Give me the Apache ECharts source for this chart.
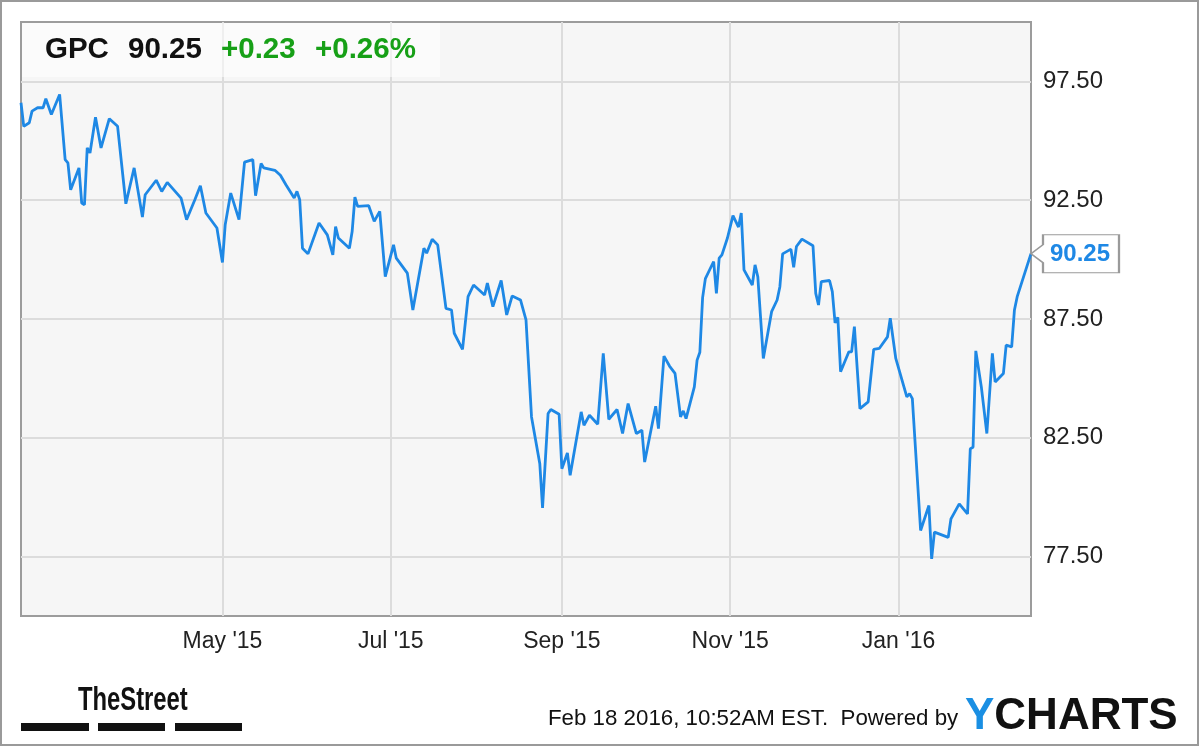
<!DOCTYPE html>
<html><head><meta charset="utf-8">
<script src="https://cdn.jsdelivr.net/npm/echarts@6/dist/echarts.min.js"></script>
<style>html,body{margin:0;padding:0;background:#fff}#c{width:1200px;height:747px}</style>
</head><body><div id="c"></div>
<script>
// ---- data ----
const ticker = 'GPC';
const lastPriceText = '90.25';
const changeText = '+0.23';
const changePctText = '+0.26%';
const stampText = 'Feb 18 2016, 10:52AM EST.  Powered by';

const dates = [
'2015-02-17','2015-02-18','2015-02-20','2015-02-21','2015-02-23','2015-02-25','2015-02-26','2015-02-28',
'2015-03-03','2015-03-05','2015-03-06','2015-03-07','2015-03-10','2015-03-11','2015-03-12','2015-03-13',
'2015-03-14','2015-03-16','2015-03-18','2015-03-21','2015-03-24','2015-03-27','2015-03-30','2015-04-02',
'2015-04-03','2015-04-07','2015-04-09','2015-04-11','2015-04-16','2015-04-18','2015-04-21','2015-04-23',
'2015-04-25','2015-04-29','2015-05-01','2015-05-02','2015-05-04','2015-05-07','2015-05-09','2015-05-12',
'2015-05-13','2015-05-15','2015-05-16','2015-05-20','2015-05-22','2015-05-24','2015-05-27','2015-05-28',
'2015-05-29','2015-05-30','2015-06-01','2015-06-05','2015-06-08','2015-06-10','2015-06-11','2015-06-12',
'2015-06-16','2015-06-17','2015-06-18','2015-06-19','2015-06-23','2015-06-25','2015-06-27','2015-06-29',
'2015-07-02','2015-07-03','2015-07-07','2015-07-09','2015-07-13','2015-07-14','2015-07-16','2015-07-18',
'2015-07-21','2015-07-23','2015-07-24','2015-07-27','2015-07-29','2015-07-31','2015-08-02','2015-08-04',
'2015-08-05','2015-08-07','2015-08-10','2015-08-12','2015-08-14','2015-08-17','2015-08-19','2015-08-21',
'2015-08-24','2015-08-25','2015-08-27','2015-08-28','2015-08-31','2015-09-01','2015-09-03','2015-09-04',
'2015-09-08','2015-09-09','2015-09-11','2015-09-14','2015-09-16','2015-09-18','2015-09-21','2015-09-23',
'2015-09-25','2015-09-28','2015-09-30','2015-10-01','2015-10-05','2015-10-06','2015-10-08','2015-10-10',
'2015-10-12','2015-10-14','2015-10-15','2015-10-16','2015-10-19','2015-10-20','2015-10-21','2015-10-22',
'2015-10-23','2015-10-26','2015-10-27','2015-10-28','2015-10-29','2015-10-31','2015-11-02','2015-11-04',
'2015-11-05','2015-11-06','2015-11-09','2015-11-10','2015-11-11','2015-11-13','2015-11-16','2015-11-18',
'2015-11-19','2015-11-20','2015-11-23','2015-11-24','2015-11-25','2015-11-27','2015-12-01','2015-12-02',
'2015-12-03','2015-12-04','2015-12-07','2015-12-08','2015-12-09','2015-12-10','2015-12-11','2015-12-14',
'2015-12-15','2015-12-16','2015-12-18','2015-12-21','2015-12-23','2015-12-25','2015-12-28','2015-12-29',
'2015-12-31','2016-01-04','2016-01-05','2016-01-06','2016-01-09','2016-01-12','2016-01-13','2016-01-14',
'2016-01-19','2016-01-20','2016-01-23','2016-01-26','2016-01-27','2016-01-28','2016-01-29','2016-01-31',
'2016-02-02','2016-02-04','2016-02-05','2016-02-08','2016-02-09','2016-02-11','2016-02-12','2016-02-13',
'2016-02-18'
];
const prices = [
96.60,95.61,95.76,96.25,96.39,96.39,96.77,96.11,
96.95,94.21,94.07,92.94,93.86,92.38,92.31,94.70,
94.49,95.99,94.70,95.93,95.61,92.35,93.86,91.79,
92.73,93.34,92.87,93.25,92.59,91.68,92.52,93.11,
91.96,91.33,89.88,91.47,92.80,91.68,94.10,94.21,
92.69,94.04,93.86,93.76,93.55,93.15,92.59,92.87,
92.52,90.48,90.24,91.54,91.04,90.20,91.39,90.91,
90.48,91.18,92.63,92.24,92.27,91.61,92.03,89.28,
90.62,90.06,89.43,87.88,90.48,90.27,90.86,90.62,
87.95,87.88,86.90,86.22,88.44,88.93,88.72,88.51,
89.01,88.02,89.12,87.67,88.47,88.30,87.46,83.38,
81.41,79.55,83.52,83.69,83.49,81.20,81.86,80.92,
83.59,83.03,83.45,83.07,86.05,83.28,83.69,82.68,
83.94,82.68,82.82,81.48,83.83,82.89,85.94,85.52,
85.21,83.38,83.63,83.31,84.64,85.77,86.10,88.40,
89.20,89.92,88.58,90.06,90.20,90.91,91.85,91.37,
91.96,89.57,88.93,89.78,89.28,85.84,87.81,88.30,
88.86,90.24,90.44,89.68,90.55,90.86,90.58,88.58,
88.09,89.07,89.12,88.65,87.34,87.57,85.28,86.12,
86.12,87.18,83.73,84.01,86.22,86.26,86.75,87.53,
85.84,84.22,84.36,84.15,78.60,79.65,77.40,78.53,
78.31,79.09,79.72,79.30,82.04,82.10,86.16,84.64,
82.68,86.05,84.85,85.21,86.40,86.33,87.88,88.44,
90.25
];
const xStart = '2015-02-17';
const xEnd = '2016-02-18';
const xTickDates = ['2015-05-01','2015-07-01','2015-09-01','2015-11-01','2016-01-01'];
const xTickLabels = ["May '15","Jul '15","Sep '15","Nov '15","Jan '16"];
const yMin = 75, yMax = 100;
const yTicks = [77.5, 82.5, 87.5, 92.5, 97.5];

// ---- chart ----
function toTime(s){ const p = s.split('-').map(Number); return new Date(p[0], p[1]-1, p[2]).getTime(); }
const xTickTimes = xTickDates.map(toTime);
const seriesData = dates.map((d,i)=>[toTime(d), prices[i]]);
const last = seriesData[seriesData.length-1];

const FONT = '"Liberation Sans", Arial, Helvetica, sans-serif';
const chart = echarts.init(document.getElementById('c'), null, {renderer:'canvas'});
chart.setOption({
  animation: false,
  backgroundColor: '#ffffff',
  textStyle: {fontFamily: FONT},
  grid: {left: 21, right: 169, top: 22, bottom: 131, show: true,
         backgroundColor: '#f6f6f6', borderColor: '#9c9c9c', borderWidth: 2},
  xAxis: {
    type: 'value', min: toTime(xStart), max: toTime(xEnd),
    axisLine: {show: false}, axisTick: {show: false, customValues: xTickTimes},
    splitLine: {show: true, lineStyle: {color: '#dcdcdc', width: 2}},
    axisLabel: {customValues: xTickTimes, margin: 14, color: '#222', fontSize: 23, fontFamily: FONT,
      formatter: function(v){ const i = xTickTimes.indexOf(+v); return i >= 0 ? xTickLabels[i] : ''; }}
  },
  yAxis: {
    type: 'value', position: 'right', min: yMin, max: yMax,
    axisLine: {show: false}, axisTick: {show: false, customValues: yTicks},
    splitLine: {show: true, lineStyle: {color: '#dcdcdc', width: 2}},
    axisLabel: {customValues: yTicks, margin: 12, color: '#222', fontSize: 24, fontFamily: FONT,
      formatter: function(v){ return Number(v).toFixed(2); }}
  },
  series: [{
    type: 'line', data: seriesData, showSymbol: false, symbol: 'none',
    lineStyle: {color: '#1e88e5', width: 2.8}, z: 3,
    markPoint: {
      symbol: 'path://M0,19 L12,10 L12,0 L88,0 L88,38 L12,38 L12,28 Z',
      symbolSize: [88, 38], symbolOffset: [44, 0],
      itemStyle: {color: '#ffffff', borderColor: '#9a9a9a', borderWidth: 1.5},
      label: {show: true, position: 'inside', offset: [5, 1], color: '#1e88e5', fontWeight: 'bold',
              fontSize: 24, fontFamily: FONT, formatter: function(p){ return Number(p.value).toFixed(2); }},
      data: [{coord: last, value: last[1]}]
    }
  }],
  graphic: [
    {type: 'rect', z: 100, silent: true, shape: {x: 1, y: 1, width: 1197, height: 744},
     style: {fill: 'none', stroke: '#9a9a9a', lineWidth: 2}},
    {type: 'rect', z: 1, silent: true, shape: {x: 22, y: 23, width: 418, height: 54},
     style: {fill: 'rgba(255,255,255,0.55)'}},
    {type: 'text', z: 5, left: 45, top: 35, style: {text: ticker, font: 'bold 29.5px ' + FONT, fill: '#111'}},
    {type: 'text', z: 5, left: 128, top: 35, style: {text: lastPriceText, font: 'bold 29.5px ' + FONT, fill: '#111'}},
    {type: 'text', z: 5, left: 221, top: 35, style: {text: changeText, font: 'bold 29.5px ' + FONT, fill: '#17a017'}},
    {type: 'text', z: 5, left: 315, top: 35, style: {text: changePctText, font: 'bold 29.5px ' + FONT, fill: '#17a017'}},
    {type: 'text', z: 5, x: 78, y: 684, scaleX: 0.7, originX: 0,
     style: {text: 'TheStreet', font: 'bold 34px ' + FONT, fill: '#111'}},
    {type: 'rect', z: 5, shape: {x: 21, y: 723, width: 68, height: 8}, style: {fill: '#111'}},
    {type: 'rect', z: 5, shape: {x: 98, y: 723, width: 67, height: 8}, style: {fill: '#111'}},
    {type: 'rect', z: 5, shape: {x: 175, y: 723, width: 67, height: 8}, style: {fill: '#111'}},
    {type: 'text', z: 5, left: 548, top: 708, style: {text: stampText, font: '22.3px ' + FONT, fill: '#111'}},
    {type: 'text', z: 5, left: 965, top: 695, style: {
      text: '{y|Y}{c|CHARTS}',
      rich: {y: {font: 'bold 44px ' + FONT, fill: '#1a8fe3', fontWeight: 'bold', fontSize: 44, color: '#1a8fe3'},
             c: {font: 'bold 44px ' + FONT, fill: '#111', fontWeight: 'bold', fontSize: 44, color: '#111'}}}}
  ]
});
</script></body></html>
